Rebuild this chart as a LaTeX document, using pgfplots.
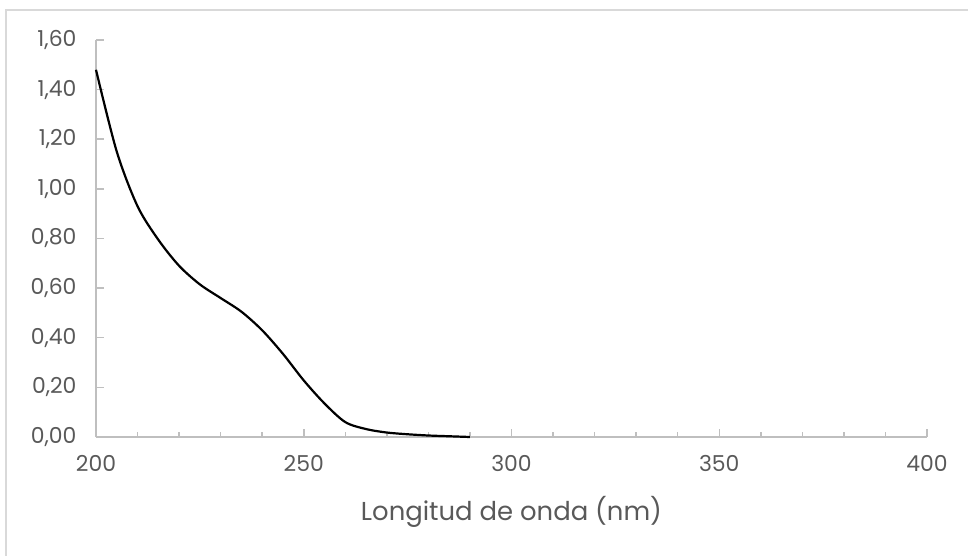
\documentclass[border=0pt]{standalone}
\usepackage{fontspec}
\setmainfont{Poppins}
\usepackage{pgfplots}
\pgfplotsset{compat=1.18}
\definecolor{axgray}{RGB}{191,191,191}
\definecolor{txtgray}{RGB}{89,89,89}
\definecolor{framegray}{RGB}{217,217,217}

\pgfplotstableread{
nm abs
200 1.48
205 1.15
210 0.93
215 0.795
220 0.69
225 0.615
230 0.56
235 0.505
240 0.43
245 0.335
250 0.228
255 0.135
260 0.06
265 0.032
270 0.018
275 0.011
280 0.006
285 0.003
290 0.000
}\spectrum

\begin{document}
\begin{tikzpicture}
\useasboundingbox (-96bp,-119bp) rectangle (872bp,437bp);
\draw[framegray, line width=1.5bp] (-90bp,-200bp) rectangle (1000bp,427bp);
\begin{axis}[
  at={(0,0)}, anchor=south west,
  scale only axis,
  width=831bp, height=397bp,
  xmin=200, xmax=400, ymin=0, ymax=1.6,
  axis x line*=bottom, axis y line*=left,
  axis line style={draw=axgray, line width=1.5bp, -},
  xtick={200,250,...,400},
  minor x tick num=4,
  ytick={0,0.2,...,1.6},
  tick align=inside,
  major tick length=8bp, minor tick length=5bp,
  every tick/.style={draw=axgray, line width=1.5bp},
  tick label style={font=\fontsize{22}{26}\selectfont, text=txtgray},
  yticklabel style={/pgf/number format/.cd, fixed, fixed zerofill, precision=2, use comma, /tikz/.cd, xshift=-16bp},
  xticklabel style={/pgf/number format/.cd, fixed, precision=0, 1000 sep={}, /tikz/.cd, anchor=base, yshift=-34bp},
  /pgf/number format/assume math mode=true,
  xtick pos=bottom, ytick pos=left,
  xlabel={Longitud de onda (nm)},
  xlabel style={font=\fontsize{26}{30}\selectfont, text=txtgray, at={(axis description cs:0.5,0)}, anchor=base, yshift=-83bp},
  clip=false,
]
\addplot[black, line width=2.2bp, smooth, tension=0.5] table[x=nm, y=abs] {\spectrum};
\end{axis}
\end{tikzpicture}
\end{document}
